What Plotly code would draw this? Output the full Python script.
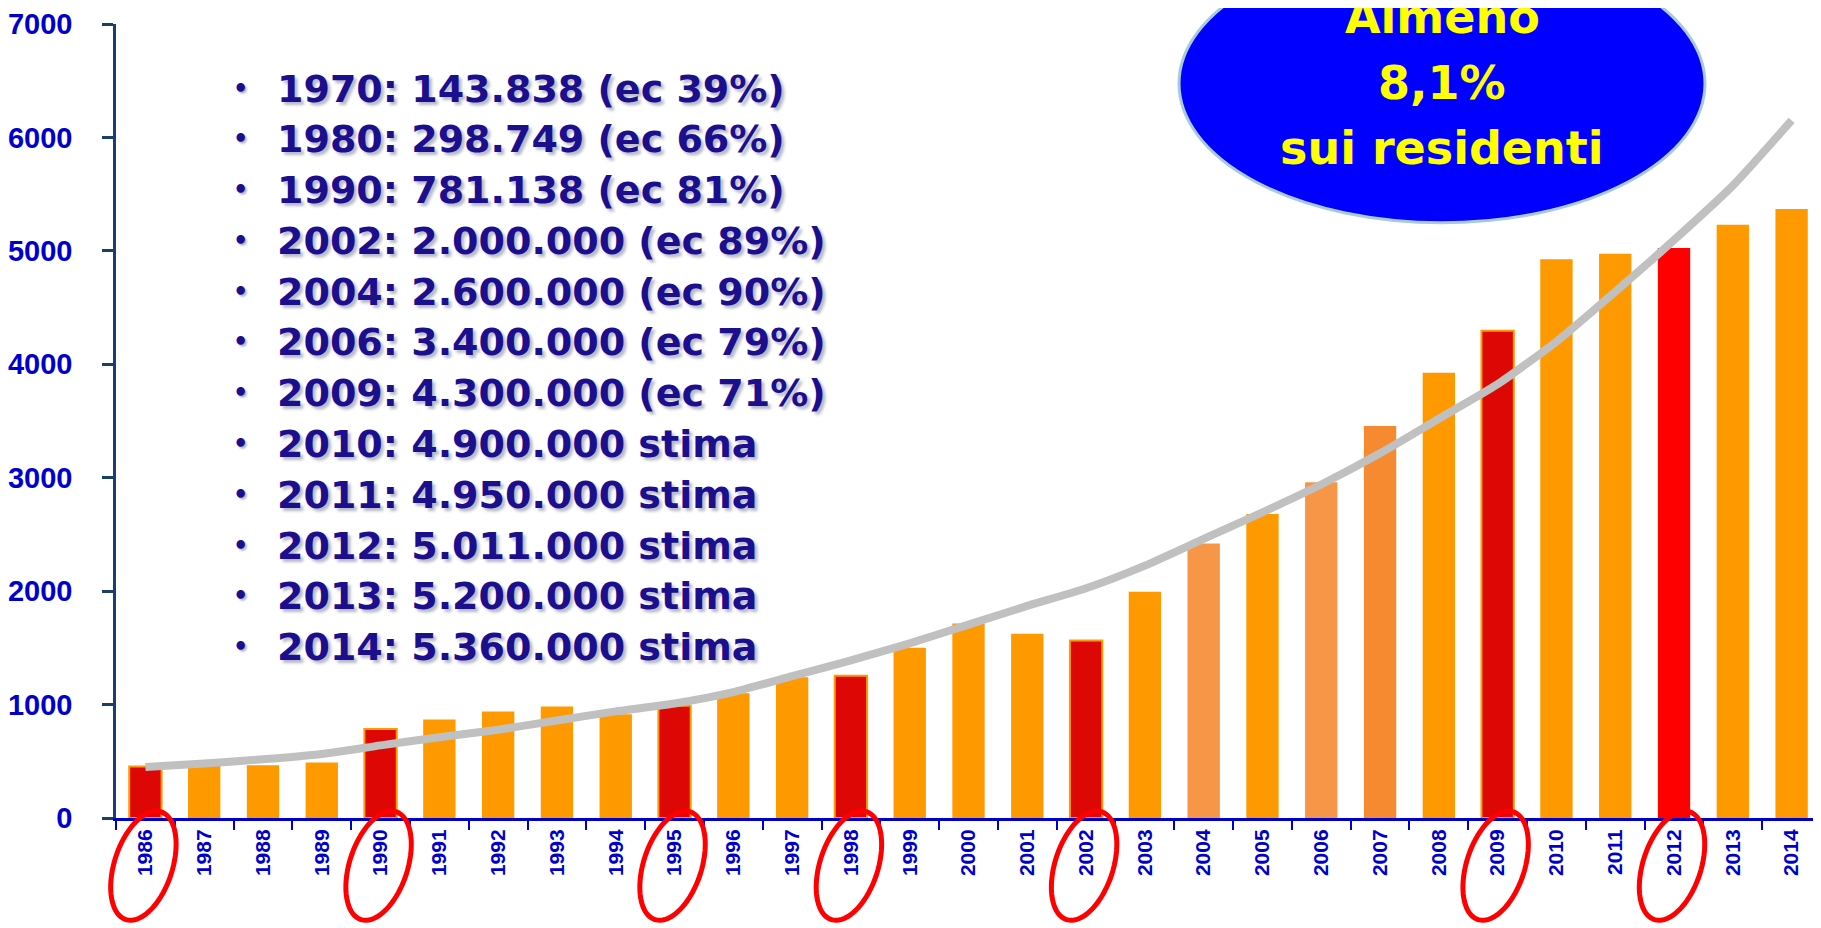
import math
import plotly.graph_objects as go

# ---------------- data ----------------
years = ["1986", "1987", "1988", "1989", "1990", "1991", "1992", "1993", "1994", "1995",
         "1996", "1997", "1998", "1999", "2000", "2001", "2002", "2003", "2004", "2005",
         "2006", "2007", "2008", "2009", "2010", "2011", "2012", "2013", "2014"]
values = [455, 468, 465, 490, 785, 868, 938, 983, 915, 990,
          1100, 1241, 1255, 1500, 1715, 1625, 1565, 1995, 2420, 2680,
          2960, 3455, 3925, 4295, 4925, 4975, 5025, 5230, 5370]
trend = [450, 480, 518, 565, 640, 712, 778, 860, 940, 1010,
         1110, 1250, 1390, 1540, 1705, 1870, 2025, 2225, 2460, 2695,
         2940, 3215, 3520, 3825, 4200, 4640, 5095, 5575, 6150]
highlight_dark = ["1986", "1990", "1995", "1998", "2002", "2009"]
highlight_bright = ["2012"]
light_orange = ["2004", "2006"]
mid_orange = ["2007"]
circled = ["1986", "1990", "1995", "1998", "2002", "2009", "2012"]
y_ticks = [0, 1000, 2000, 3000, 4000, 5000, 6000, 7000]

list_lines = [
    "1970: 143.838 (ec 39%)",
    "1980: 298.749 (ec 66%)",
    "1990: 781.138 (ec 81%)",
    "2002: 2.000.000 (ec 89%)",
    "2004: 2.600.000 (ec 90%)",
    "2006: 3.400.000 (ec 79%)",
    "2009: 4.300.000 (ec 71%)",
    "2010: 4.900.000 stima",
    "2011: 4.950.000 stima",
    "2012: 5.011.000 stima",
    "2013: 5.200.000 stima",
    "2014: 5.360.000 stima",
]
bubble_lines = ["Almeno", "8,1%", "sui residenti"]

# ---------------- layout constants ----------------
# the page body adds a small offset; the figure is sized to fit the window
OX, OY = 8, 10
W, H = 1813, 918
ML, MR, MT, MB = 108, 0, 11, 108
PW, PH = W - ML - MR, H - MT - MB

ORANGE = "#FF9900"
DARK_RED = "#DD0806"
BRIGHT_RED = "#FF0000"
LIGHT_OR = "#F79646"
MID_OR = "#F58A30"
BLUE = "#0000CC"
TEXT_BLUE = "#1B0F8E"
AXIS_NAVY = "#17406D"


def px_to_paper_x(px):
    # px measured in window coordinates
    return (px - OX - ML) / PW


def px_to_paper_y(py):
    return (H - MB - (py - OY)) / PH


colors, lcolors, lwidths = [], [], []
for y in years:
    if y in highlight_dark:
        colors.append(DARK_RED); lcolors.append(ORANGE); lwidths.append(2)
    elif y in highlight_bright:
        colors.append(BRIGHT_RED); lcolors.append(BRIGHT_RED); lwidths.append(0)
    elif y in light_orange:
        colors.append(LIGHT_OR); lcolors.append(LIGHT_OR); lwidths.append(0)
    elif y in mid_orange:
        colors.append(MID_OR); lcolors.append(MID_OR); lwidths.append(0)
    else:
        colors.append(ORANGE); lcolors.append(ORANGE); lwidths.append(0)

fig = go.Figure()
fig.add_trace(go.Bar(
    x=years, y=values,
    marker=dict(color=colors, line=dict(color=lcolors, width=lwidths)),
    hoverinfo="x+y", showlegend=False,
))
fig.add_trace(go.Scatter(
    x=years, y=trend, mode="lines",
    line=dict(color="#C0C0C0", width=8, shape="spline", smoothing=0.6),
    hoverinfo="skip", showlegend=False,
))

shapes = []
# blue bubble
shapes.append(dict(
    type="circle", xref="paper", yref="paper", layer="above",
    x0=px_to_paper_x(1179), x1=px_to_paper_x(1705),
    y0=px_to_paper_y(221), y1=px_to_paper_y(-59),
    fillcolor="#0000FF", line=dict(color="#A9CBD9", width=3),
))

# red hand-drawn ellipses around circled years
N = len(years)
slot = PW / N
a, b, phi = 57.0, 29.0, math.radians(18)
for yr in circled:
    i = years.index(yr)
    cx = OX + ML + (i + 0.5) * slot - 2
    cy = 868
    pts = []
    for k in range(73):
        t = 2 * math.pi * k / 72
        px = cx + a * math.cos(t) * math.sin(phi) + b * math.sin(t) * math.cos(phi)
        py = cy - a * math.cos(t) * math.cos(phi) + b * math.sin(t) * math.sin(phi)
        pts.append((px_to_paper_x(px), px_to_paper_y(py)))
    path = "M " + " L ".join(f"{x:.5f},{y:.5f}" for x, y in pts) + " Z"
    shapes.append(dict(type="path", xref="paper", yref="paper", path=path,
                       line=dict(color="#FF0000", width=5), layer="above"))

annotations = []
list_font = dict(family="DejaVu Sans, sans-serif",
                 size=38, color=TEXT_BLUE, weight="bold",
                 shadow="3px 3px 3px #B8B8C8")
for k, line in enumerate(list_lines):
    yc = 86 + 51.1 * k
    annotations.append(dict(
        x=px_to_paper_x(240), y=px_to_paper_y(yc), xref="paper", yref="paper",
        text="•", showarrow=False, xanchor="center", yanchor="middle",
        font=dict(family="DejaVu Sans, sans-serif", size=24, color=TEXT_BLUE,
                  weight="bold", shadow="2px 2px 2px #B8B8C8"),
    ))
    annotations.append(dict(
        x=px_to_paper_x(275), y=px_to_paper_y(yc), xref="paper", yref="paper",
        text=line, showarrow=False, xanchor="left", yanchor="middle",
        font=list_font,
    ))

bubble_font = dict(family="DejaVu Sans, sans-serif",
                   size=46, color="#FFFF00", weight="bold")
for k, line in enumerate(bubble_lines):
    yc = 14 + 66 * k
    annotations.append(dict(
        x=px_to_paper_x(1442), y=px_to_paper_y(yc), xref="paper", yref="paper",
        text=line, showarrow=False, xanchor="center", yanchor="middle",
        font=bubble_font,
    ))

fig.update_layout(
    width=W, height=H,
    margin=dict(l=ML, r=MR, t=MT, b=MB, pad=0),
    paper_bgcolor="white", plot_bgcolor="white",
    bargap=0.45,
    shapes=shapes, annotations=annotations,
    xaxis=dict(
        type="category", showgrid=False, zeroline=False,
        showline=True, linecolor=BLUE, linewidth=3,
        ticks="outside", tickson="boundaries", ticklen=9, tickcolor=BLUE, tickwidth=2,
        tickangle=-90,
        tickfont=dict(family="Liberation Sans, Arial, sans-serif", size=21,
                      color=BLUE, weight="bold"),
    ),
    yaxis=dict(
        range=[0, 7000], tickvals=y_ticks, showgrid=False, zeroline=False,
        showline=True, linecolor=AXIS_NAVY, linewidth=2.5,
        ticks="outside", ticklen=11, tickcolor=AXIS_NAVY, tickwidth=2.5,
        ticklabelstandoff=24, ticklabeloverflow="allow",
        tickfont=dict(family="Liberation Sans, Arial, sans-serif", size=29,
                      color=BLUE, weight="bold"),
    ),
)

fig.write_html("out.html")
